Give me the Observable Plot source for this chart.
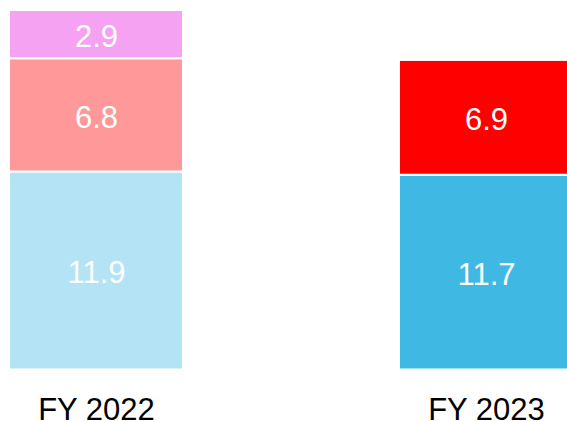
<!DOCTYPE html>
<html>
<head>
<meta charset="utf-8">
<script src="https://cdn.jsdelivr.net/npm/d3@7"></script>
<script src="https://cdn.jsdelivr.net/npm/@observablehq/plot@0.6"></script>
<style>
  html, body { margin: 0; padding: 0; background: #fff; overflow: hidden; }
  #chart svg { overflow: hidden; }
</style>
</head>
<body>
<div id="chart"></div>
<script>
// Data
const years = ["FY 2022", "FY 2023"];
const layers = ["Layer 1", "Layer 2", "Layer 3"];
const fy2022 = [11.9, 6.8, 2.9];
const fy2023 = [11.7, 6.9];

// Styles (colour per year/layer)
const colors2022 = ["#b3e3f4", "#ff9999", "#f5a2f2"];
const colors2023 = ["#40b8e4", "#ff0000"];

const rows = [];
const keys = [];
const colorRange = [];
fy2022.forEach((v, i) => { rows.push({year: years[0], layer: layers[i], value: v, key: years[0] + " " + layers[i]}); });
fy2023.forEach((v, i) => { rows.push({year: years[1], layer: layers[i], value: v, key: years[1] + " " + layers[i]}); });
layers.forEach((l, i) => { keys.push(years[0] + " " + l); colorRange.push(colors2022[i]); });
colors2023.forEach((c, i) => { keys.push(years[1] + " " + layers[i]); colorRange.push(c); });

const chart = Plot.plot({
  width: 567,
  height: 421,
  marginTop: 10,
  marginBottom: 51.5,
  marginLeft: 9,
  marginRight: 0,
  style: {fontFamily: "'Liberation Sans', Arial, sans-serif", background: "white"},
  x: {domain: years, range: [9, 573], paddingInner: 0.554, paddingOuter: 0, axis: null},
  y: {domain: [0, 21.6], range: [369.5, 10], axis: null},
  color: {domain: keys, range: colorRange},
  marks: [
    Plot.barY(rows, Plot.stackY({x: "year", y: "value", fill: "key", stroke: "white", strokeWidth: 2})),
    Plot.text(rows, Plot.stackY({x: "year", y: "value", text: d => d.value.toFixed(1), fill: "white", fontSize: 31, dy: 2.5})),
    Plot.axisX({domain: years, tickSize: 0, tickPadding: 27.5, fontSize: 31, color: "#000", label: null})
  ]
});
document.getElementById("chart").appendChild(chart);
</script>
</body>
</html>
